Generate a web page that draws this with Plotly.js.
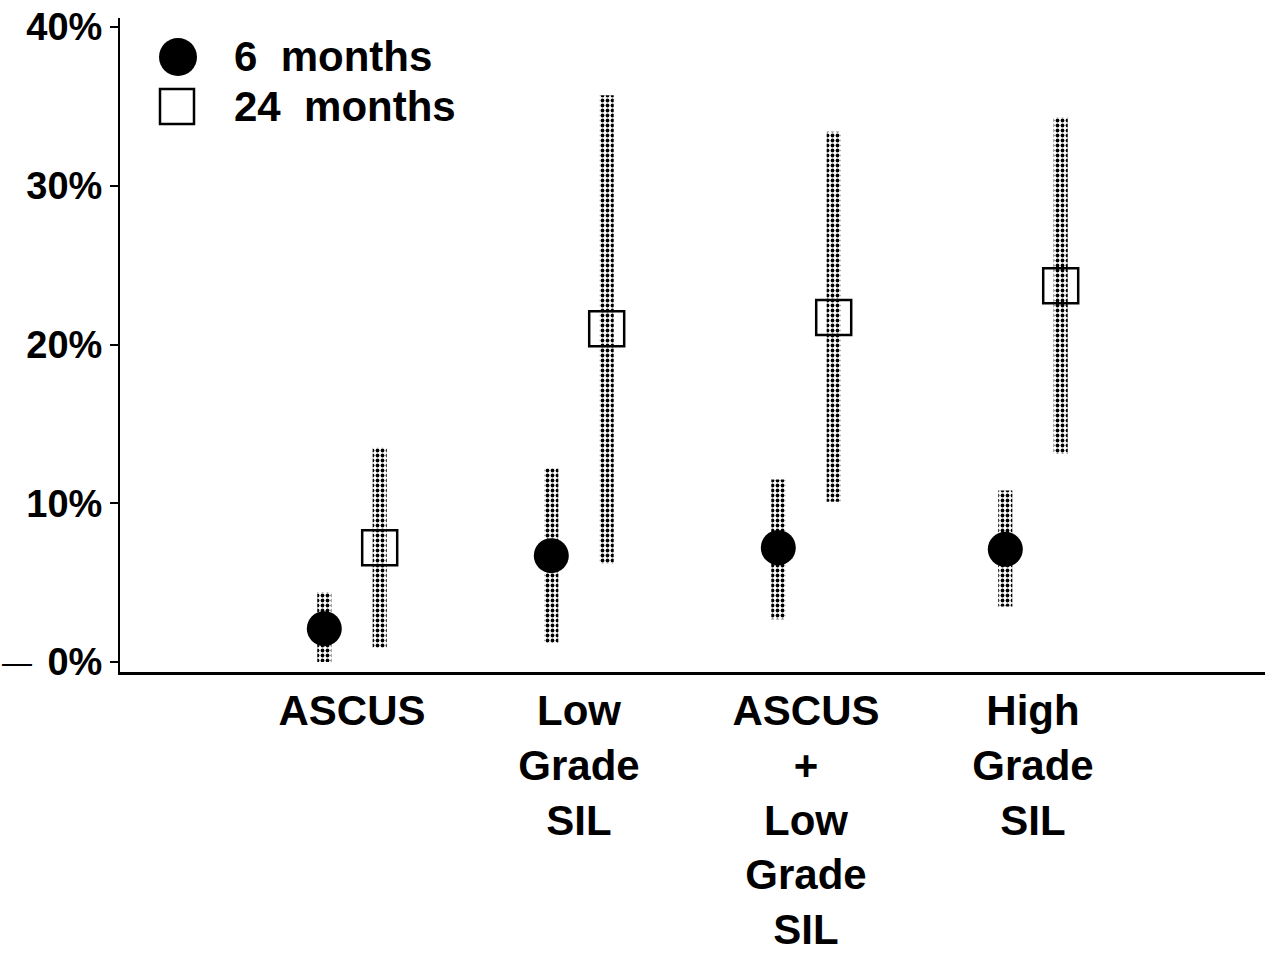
<!DOCTYPE html>
<html>
<head>
<meta charset="utf-8">
<script src="https://cdn.plot.ly/plotly-3.0.1.min.js"></script>
<style>html,body{margin:0;padding:0;background:#fff;}#chart{width:1276px;height:956px;}</style>
</head>
<body>
<div id="chart"></div>
<script>
// ---- data (percent) ----
var categories = ["ASCUS", "Low<br>Grade<br>SIL", "ASCUS<br>+<br>Low<br>Grade<br>SIL", "High<br>Grade<br>SIL"];
var val6  = [2.1, 6.7, 7.2, 7.1];
var lo6   = [0.0, 1.2, 2.7, 3.5];
var hi6   = [4.4, 12.2, 11.5, 10.8];
var val24 = [7.2, 21.0, 21.7, 23.7];
var lo24  = [0.9, 6.2, 10.1, 13.1];
var hi24  = [13.5, 35.7, 33.4, 34.3];
var yTicks = [0, 10, 20, 30, 40];

var catPos = categories.map(function (c, i) { return i + 1; });
var off = 0.122;
var x6 = catPos.map(function (p) { return p - off; });
var x24 = catPos.map(function (p) { return p + off; });

var FONT = "Liberation Sans, Arial, sans-serif";
var pattern = { shape: ".", fgcolor: "#000", bgcolor: "#fff", size: 5, solidity: 0.45 };

function ciBar(x, lo, hi) {
  return {
    type: "bar", x: x, base: lo,
    y: hi.map(function (h, i) { return h - lo[i]; }),
    width: 0.062,
    marker: { color: "#fff", pattern: pattern, line: { width: 0 } },
    showlegend: false, hoverinfo: "skip"
  };
}

var traces = [
  ciBar(x6, lo6, hi6),
  ciBar(x24, lo24, hi24),
  { type: "scatter", mode: "markers", name: "6 months", x: x6, y: val6,
    marker: { symbol: "circle", size: 35, color: "#000", line: { width: 0 } } },
  { type: "scatter", mode: "markers", name: "24 months", x: x24, y: val24,
    marker: { symbol: "square-open", size: 35, color: "#000", line: { width: 2.5, color: "#000" } } }
];

// pixel helpers for legend placement (plot area 120..1265 x 18..672)
var L = 120, R = 1265, T = 18, B = 672;
function px(x) { return (x - L) / (R - L); }
function py(y) { return (B - y) / (B - T); }

var layout = {
  width: 1276, height: 956,
  margin: { l: L, r: 1276 - R, t: T, b: 956 - B, pad: 0 },
  paper_bgcolor: "#fff", plot_bgcolor: "#fff",
  showlegend: false,
  barmode: "overlay",
  font: { family: FONT, color: "#000" },
  xaxis: {
    range: [-0.022, 5.022], showgrid: false, zeroline: false,
    showline: true, linecolor: "#000", linewidth: 3,
    tickmode: "array", tickvals: catPos, ticktext: categories,
    ticks: "", tickfont: { family: FONT, size: 42, color: "#000", weight: "bold" }
  },
  yaxis: {
    range: [-0.63, 40.57], showgrid: false, zeroline: false,
    showline: true, linecolor: "#000", linewidth: 2,
    tickmode: "array", tickvals: yTicks, ticktext: yTicks.map(function (v) { return v + "%"; }),
    ticks: "outside", ticklen: 8, tickwidth: 2, tickcolor: "#000",
    tickfont: { family: FONT, size: 38, color: "#000", weight: "bold" }
  },
  shapes: [
    { type: "circle", xref: "paper", yref: "paper", x0: px(159), x1: px(197), y0: py(76), y1: py(38),
      fillcolor: "#000", line: { width: 0 } },
    { type: "rect", xref: "paper", yref: "paper", x0: px(160), x1: px(194), y0: py(124), y1: py(89),
      fillcolor: "rgba(0,0,0,0)", line: { width: 2.5, color: "#000" } }
  ],
  annotations: [
    { xref: "paper", yref: "paper", x: px(232), y: py(57), xanchor: "left", yanchor: "middle",
      text: "6\u00a0 months", showarrow: false, font: { family: FONT, size: 42, color: "#000", weight: "bold" } },
    { xref: "paper", yref: "paper", x: px(232), y: py(106), xanchor: "left", yanchor: "middle",
      text: "24\u00a0 months", showarrow: false, font: { family: FONT, size: 42, color: "#000", weight: "bold" } },
    { xref: "paper", yref: "paper", x: px(0), y: py(662), xanchor: "left", yanchor: "middle",
      text: "\u2014", showarrow: false, font: { family: FONT, size: 30, color: "#000" } }
  ]
};

Plotly.newPlot("chart", traces, layout, { displayModeBar: false, staticPlot: true });
</script>
</body>
</html>
